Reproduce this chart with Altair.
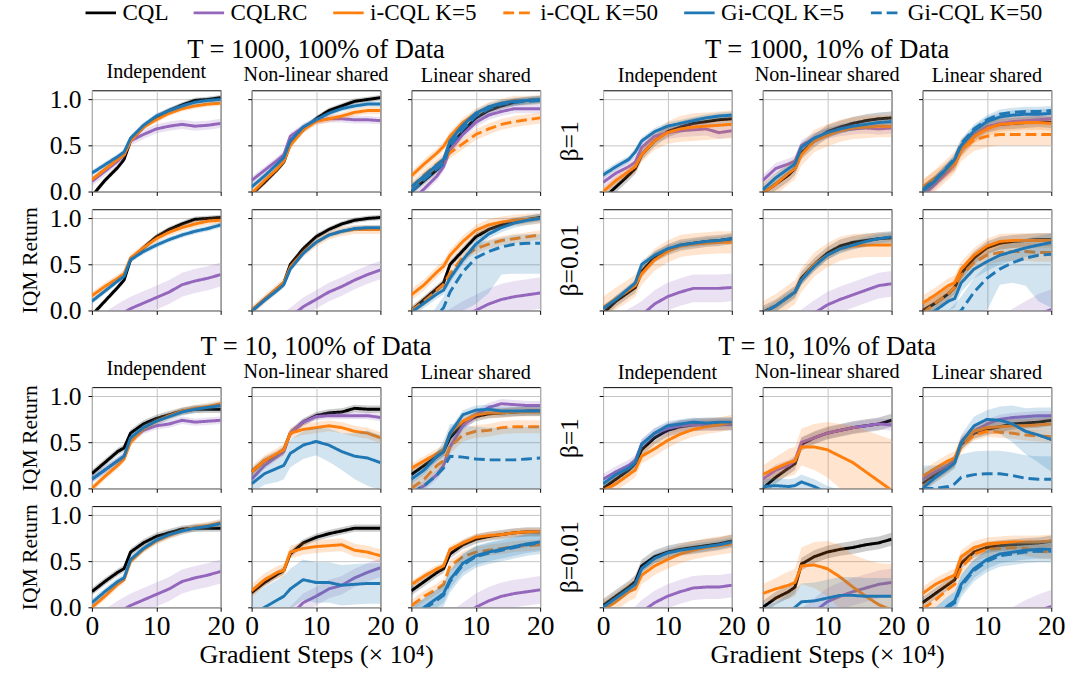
import altair as alt
import pandas as pd

# ---------------- data ----------------
X = [0, 2, 4, 5, 6, 8, 10, 12, 14, 16, 18, 20]
SERIES = ["CQL", "CQLRC", "i-CQL K=5", "i-CQL K=50", "Gi-CQL K=5", "Gi-CQL K=50"]
COLORS = ["#000000", "#9467bd", "#ff7f0e", "#ff7f0e", "#1f77b4", "#1f77b4"]
DASHES = [[1, 0], [1, 0], [1, 0], [11, 5], [1, 0], [11, 5]]
COLUMNS = ["Independent", "Non-linear shared", "Linear shared"]
GROUP_TITLES = ["T = 1000, 100% of Data", "T = 1000, 10% of Data",
                "T = 10, 100% of Data", "T = 10, 10% of Data"]
ROW_LABELS = ["β=1", "β=0.01"]
Y_TICKS = [0, 0.5, 1.0]
X_TICKS = [0, 10, 20]
X_TITLE = "Gradient Steps (× 10⁴)"
Y_TITLE = "IQM Return"

# each entry: series -> (mean values at X, band half-width)
# a half-width may be one number, a list, or a (below, above) pair
# ---- T = 1000, 100% of data ----
A_B1_IND = {
    "CQL": ([-0.05, 0.12, 0.26, 0.35, 0.55, 0.70, 0.81, 0.88, 0.94, 0.99, 1.00, 1.02], 0.03),
    "CQLRC": ([0.11, 0.22, 0.33, 0.40, 0.55, 0.62, 0.68, 0.71, 0.73, 0.71, 0.72, 0.74], 0.05),
    "i-CQL K=5": ([0.13, 0.24, 0.35, 0.40, 0.55, 0.70, 0.78, 0.85, 0.90, 0.93, 0.95, 0.96], 0.03),
    "Gi-CQL K=5": ([0.20, 0.29, 0.38, 0.43, 0.58, 0.72, 0.82, 0.88, 0.93, 0.97, 0.99, 1.00], 0.03),
}
A_B1_NON = {
    "CQL": ([-0.03, 0.10, 0.24, 0.32, 0.52, 0.67, 0.79, 0.88, 0.93, 0.98, 1.00, 1.02], 0.03),
    "CQLRC": ([0.12, 0.23, 0.34, 0.40, 0.60, 0.70, 0.77, 0.79, 0.79, 0.78, 0.78, 0.77], 0.04),
    "i-CQL K=5": ([-0.02, 0.12, 0.25, 0.33, 0.50, 0.67, 0.76, 0.79, 0.82, 0.86, 0.88, 0.88], 0.04),
    "Gi-CQL K=5": ([0.05, 0.17, 0.30, 0.37, 0.55, 0.70, 0.78, 0.85, 0.90, 0.93, 0.95, 0.95], 0.03),
}
A_B1_LIN = {
    "CQL": ([0.00, 0.12, 0.24, 0.30, 0.50, 0.65, 0.80, 0.88, 0.93, 0.97, 0.99, 1.00], 0.04),
    "CQLRC": ([-0.10, 0.03, 0.17, 0.27, 0.45, 0.62, 0.75, 0.83, 0.87, 0.90, 0.90, 0.90], 0.05),
    "i-CQL K=5": ([0.17, 0.30, 0.42, 0.49, 0.60, 0.75, 0.85, 0.92, 0.96, 0.99, 0.99, 1.00], 0.05),
    "i-CQL K=50": ([0.05, 0.18, 0.30, 0.35, 0.42, 0.52, 0.62, 0.68, 0.73, 0.76, 0.78, 0.80], 0.06),
    "Gi-CQL K=5": ([0.05, 0.17, 0.29, 0.35, 0.55, 0.72, 0.85, 0.92, 0.96, 0.98, 0.99, 1.00], 0.04),
    "Gi-CQL K=50": ([0.00, 0.13, 0.25, 0.30, 0.50, 0.68, 0.82, 0.90, 0.95, 0.97, 0.98, 0.99], 0.04),
}
A_B2_IND = {
    "CQL": ([-0.05, 0.10, 0.25, 0.33, 0.55, 0.68, 0.80, 0.88, 0.94, 0.99, 1.00, 1.01], 0.03),
    "CQLRC": ([-0.25, -0.15, -0.06, -0.02, 0.02, 0.08, 0.14, 0.20, 0.28, 0.32, 0.35, 0.39], 0.13),
    "i-CQL K=5": ([0.16, 0.26, 0.35, 0.40, 0.57, 0.68, 0.78, 0.85, 0.90, 0.94, 0.97, 0.98], 0.04),
    "Gi-CQL K=5": ([0.10, 0.21, 0.32, 0.37, 0.55, 0.64, 0.71, 0.77, 0.82, 0.86, 0.89, 0.93], 0.03),
}
A_B2_NON = {
    "CQL": ([0.00, 0.12, 0.24, 0.30, 0.50, 0.67, 0.80, 0.88, 0.94, 0.98, 1.00, 1.01], 0.03),
    "CQLRC": ([-0.35, -0.26, -0.16, -0.12, -0.07, 0.04, 0.12, 0.20, 0.26, 0.33, 0.39, 0.44], 0.10),
    "i-CQL K=5": ([0.00, 0.12, 0.24, 0.30, 0.47, 0.63, 0.74, 0.82, 0.86, 0.88, 0.88, 0.88], 0.05),
    "Gi-CQL K=5": ([-0.01, 0.11, 0.22, 0.28, 0.45, 0.62, 0.74, 0.82, 0.86, 0.89, 0.90, 0.90], 0.03),
}
A_B2_LIN = {
    "CQL": ([0.00, 0.12, 0.24, 0.30, 0.50, 0.65, 0.80, 0.88, 0.93, 0.97, 0.99, 1.01], 0.04),
    "CQLRC": ([-0.45, -0.35, -0.25, -0.20, -0.15, -0.07, 0.00, 0.07, 0.12, 0.15, 0.17, 0.19], 0.17),
    "i-CQL K=5": ([0.17, 0.28, 0.42, 0.48, 0.60, 0.75, 0.87, 0.93, 0.96, 0.98, 0.99, 1.00], 0.06),
    "i-CQL K=50": ([0.00, 0.10, 0.22, 0.28, 0.40, 0.58, 0.67, 0.72, 0.76, 0.78, 0.80, 0.82], 0.05),
    "Gi-CQL K=5": ([-0.02, 0.08, 0.18, 0.22, 0.35, 0.55, 0.72, 0.83, 0.90, 0.95, 0.98, 1.00], 0.05),
    "Gi-CQL K=50": ([-0.40, -0.25, -0.05, 0.03, 0.20, 0.42, 0.57, 0.64, 0.69, 0.72, 0.73, 0.73],
                    ([0.25, 0.25, 0.25, 0.25, 0.25, 0.42, 0.50, 0.45, 0.30, 0.32, 0.33, 0.33],
                     [0.10, 0.10, 0.10, 0.12, 0.15, 0.15, 0.15, 0.12, 0.10, 0.10, 0.10, 0.10])),
}
# ---- T = 1000, 10% of data ----
B_B1_IND = {
    "CQL": ([-0.08, 0.05, 0.18, 0.25, 0.40, 0.55, 0.65, 0.70, 0.74, 0.76, 0.78, 0.79], 0.06),
    "CQLRC": ([0.10, 0.20, 0.27, 0.32, 0.48, 0.60, 0.64, 0.66, 0.67, 0.68, 0.64, 0.66], 0.07),
    "i-CQL K=5": ([0.00, 0.12, 0.22, 0.27, 0.40, 0.55, 0.64, 0.68, 0.70, 0.71, 0.72, 0.73],
                  [0.04, 0.05, 0.06, 0.07, 0.08, 0.10, 0.12, 0.14, 0.15, 0.15, 0.15, 0.15]),
    "Gi-CQL K=5": ([0.18, 0.27, 0.35, 0.43, 0.55, 0.65, 0.71, 0.74, 0.77, 0.80, 0.82, 0.83], 0.04),
}
B_B1_NON = {
    "CQL": ([-0.02, 0.08, 0.18, 0.25, 0.42, 0.55, 0.65, 0.70, 0.74, 0.77, 0.79, 0.80], 0.07),
    "CQLRC": ([0.12, 0.25, 0.30, 0.33, 0.50, 0.58, 0.63, 0.66, 0.68, 0.69, 0.68, 0.69], 0.06),
    "i-CQL K=5": ([-0.02, 0.08, 0.20, 0.25, 0.40, 0.55, 0.61, 0.66, 0.69, 0.70, 0.71, 0.71], 0.12),
    "Gi-CQL K=5": ([0.02, 0.15, 0.25, 0.30, 0.48, 0.58, 0.64, 0.68, 0.71, 0.73, 0.75, 0.76], 0.05),
}
B_B1_LIN = {
    "CQL": ([0.00, 0.12, 0.25, 0.30, 0.45, 0.60, 0.70, 0.73, 0.74, 0.75, 0.76, 0.75], 0.06),
    "CQLRC": ([-0.05, 0.08, 0.22, 0.30, 0.45, 0.62, 0.70, 0.74, 0.76, 0.77, 0.78, 0.79], 0.05),
    "i-CQL K=5": ([0.05, 0.15, 0.25, 0.30, 0.45, 0.60, 0.68, 0.73, 0.74, 0.75, 0.75, 0.74], 0.08),
    "i-CQL K=50": ([0.00, 0.12, 0.25, 0.32, 0.45, 0.56, 0.60, 0.62, 0.62, 0.62, 0.62, 0.62], 0.12),
    "Gi-CQL K=5": ([0.00, 0.12, 0.27, 0.35, 0.50, 0.66, 0.76, 0.81, 0.83, 0.84, 0.84, 0.85], 0.05),
    "Gi-CQL K=50": ([0.02, 0.13, 0.28, 0.36, 0.52, 0.68, 0.78, 0.84, 0.86, 0.87, 0.87, 0.88], 0.05),
}
B_B2_IND = {
    "CQL": ([-0.03, 0.10, 0.20, 0.25, 0.42, 0.58, 0.66, 0.71, 0.73, 0.75, 0.76, 0.78], 0.06),
    "CQLRC": ([-0.30, -0.22, -0.13, -0.09, -0.05, 0.07, 0.15, 0.20, 0.24, 0.24, 0.24, 0.25], 0.15),
    "i-CQL K=5": ([0.03, 0.13, 0.22, 0.27, 0.40, 0.55, 0.64, 0.70, 0.72, 0.73, 0.74, 0.74], 0.12),
    "Gi-CQL K=5": ([0.02, 0.12, 0.24, 0.30, 0.50, 0.60, 0.67, 0.71, 0.73, 0.75, 0.76, 0.78], 0.04),
}
B_B2_NON = {
    "CQL": ([-0.02, 0.05, 0.15, 0.20, 0.35, 0.50, 0.62, 0.70, 0.74, 0.76, 0.78, 0.79], 0.07),
    "CQLRC": ([-0.40, -0.32, -0.22, -0.18, -0.13, -0.03, 0.06, 0.12, 0.17, 0.22, 0.27, 0.29], 0.14),
    "i-CQL K=5": ([-0.03, 0.05, 0.15, 0.20, 0.33, 0.50, 0.60, 0.67, 0.70, 0.71, 0.71, 0.71], 0.13),
    "Gi-CQL K=5": ([-0.03, 0.05, 0.15, 0.20, 0.33, 0.48, 0.60, 0.67, 0.71, 0.75, 0.78, 0.80], 0.05),
}
B_B2_LIN = {
    "CQL": ([0.00, 0.08, 0.18, 0.25, 0.40, 0.57, 0.68, 0.73, 0.75, 0.76, 0.77, 0.77], 0.07),
    "CQLRC": ([-0.60, -0.55, -0.50, -0.48, -0.45, -0.40, -0.33, -0.25, -0.18, -0.10, -0.04, 0.01],
              [0.10, 0.10, 0.10, 0.12, 0.12, 0.14, 0.16, 0.18, 0.20, 0.20, 0.22, 0.22]),
    "i-CQL K=5": ([0.08, 0.17, 0.27, 0.30, 0.45, 0.60, 0.70, 0.75, 0.76, 0.76, 0.76, 0.76], 0.08),
    "i-CQL K=50": ([-0.03, 0.08, 0.18, 0.25, 0.38, 0.52, 0.60, 0.63, 0.64, 0.64, 0.63, 0.63], 0.10),
    "Gi-CQL K=5": ([-0.08, 0.00, 0.10, 0.13, 0.30, 0.45, 0.53, 0.60, 0.64, 0.68, 0.71, 0.74], 0.10),
    "Gi-CQL K=50": ([-0.40, -0.25, -0.10, -0.05, 0.00, 0.20, 0.35, 0.45, 0.52, 0.57, 0.60, 0.61],
                    ([0.25, 0.25, 0.25, 0.25, 0.30, 0.40, 0.35, 0.17, 0.22, 0.30, 0.50, 0.58],
                     [0.10, 0.10, 0.10, 0.12, 0.15, 0.15, 0.15, 0.13, 0.12, 0.12, 0.12, 0.12])),
}
# ---- T = 10, 100% of data ----
C_B1_IND = {
    "CQL": ([0.16, 0.28, 0.40, 0.44, 0.60, 0.70, 0.76, 0.80, 0.84, 0.86, 0.86, 0.86], 0.04),
    "CQLRC": ([0.10, 0.20, 0.30, 0.35, 0.52, 0.63, 0.68, 0.70, 0.74, 0.72, 0.73, 0.74], 0.04),
    "i-CQL K=5": ([0.00, 0.13, 0.25, 0.32, 0.50, 0.65, 0.73, 0.79, 0.84, 0.87, 0.89, 0.92], 0.04),
    "Gi-CQL K=5": ([0.10, 0.20, 0.30, 0.35, 0.55, 0.66, 0.73, 0.78, 0.83, 0.86, 0.88, 0.90], 0.04),
}
C_B1_NON = {
    "CQL": ([0.18, 0.30, 0.37, 0.42, 0.60, 0.72, 0.79, 0.82, 0.83, 0.87, 0.86, 0.86], 0.04),
    "CQLRC": ([0.10, 0.25, 0.35, 0.40, 0.60, 0.72, 0.78, 0.79, 0.79, 0.79, 0.79, 0.77], 0.04),
    "i-CQL K=5": ([0.18, 0.30, 0.38, 0.42, 0.60, 0.64, 0.66, 0.68, 0.66, 0.62, 0.60, 0.55], 0.06),
    "Gi-CQL K=5": ([0.05, 0.16, 0.22, 0.25, 0.38, 0.47, 0.51, 0.47, 0.40, 0.35, 0.33, 0.28],
                   [0.10, 0.12, 0.15, 0.15, 0.15, 0.15, 0.15, 0.18, 0.20, 0.25, 0.30, 0.30]),
}
C_B1_LIN = {
    "CQL": ([0.15, 0.25, 0.35, 0.40, 0.55, 0.70, 0.78, 0.81, 0.82, 0.83, 0.84, 0.84], 0.05),
    "CQLRC": ([-0.05, 0.03, 0.15, 0.25, 0.45, 0.68, 0.80, 0.88, 0.92, 0.91, 0.90, 0.90], 0.05),
    "i-CQL K=5": ([0.22, 0.30, 0.38, 0.42, 0.60, 0.73, 0.80, 0.82, 0.82, 0.83, 0.83, 0.83], 0.05),
    "i-CQL K=50": ([0.00, 0.10, 0.25, 0.30, 0.45, 0.58, 0.62, 0.63, 0.66, 0.67, 0.67, 0.67], 0.07),
    "Gi-CQL K=5": ([0.10, 0.20, 0.35, 0.40, 0.60, 0.80, 0.85, 0.86, 0.84, 0.84, 0.84, 0.84], 0.05),
    "Gi-CQL K=50": ([-0.05, 0.03, 0.15, 0.22, 0.35, 0.34, 0.32, 0.31, 0.31, 0.31, 0.32, 0.33],
                    [0.15, 0.20, 0.25, 0.30, 0.35, 0.35, 0.35, 0.35, 0.35, 0.35, 0.35, 0.35]),
}
C_B2_IND = {
    "CQL": ([0.17, 0.28, 0.38, 0.42, 0.60, 0.70, 0.77, 0.81, 0.85, 0.86, 0.86, 0.86], 0.04),
    "CQLRC": ([-0.25, -0.15, -0.06, -0.02, 0.02, 0.08, 0.14, 0.20, 0.28, 0.32, 0.35, 0.39], 0.13),
    "i-CQL K=5": ([0.00, 0.12, 0.25, 0.30, 0.50, 0.63, 0.72, 0.78, 0.83, 0.87, 0.89, 0.92], 0.04),
    "Gi-CQL K=5": ([0.05, 0.17, 0.28, 0.32, 0.52, 0.64, 0.73, 0.79, 0.83, 0.86, 0.88, 0.91], 0.04),
}
C_B2_NON = {
    "CQL": ([0.16, 0.27, 0.36, 0.40, 0.58, 0.70, 0.76, 0.80, 0.83, 0.86, 0.86, 0.86], 0.04),
    "CQLRC": ([-0.40, -0.30, -0.20, -0.15, -0.09, 0.05, 0.12, 0.20, 0.24, 0.32, 0.38, 0.43], 0.10),
    "i-CQL K=5": ([0.18, 0.30, 0.38, 0.40, 0.60, 0.64, 0.66, 0.67, 0.68, 0.62, 0.60, 0.56], 0.07),
    "Gi-CQL K=5": ([-0.10, 0.00, 0.08, 0.12, 0.20, 0.30, 0.27, 0.27, 0.24, 0.25, 0.26, 0.26], 0.22),
}
C_B2_LIN = {
    "CQL": ([0.18, 0.28, 0.38, 0.42, 0.58, 0.68, 0.74, 0.77, 0.79, 0.81, 0.82, 0.82], 0.05),
    "CQLRC": ([-0.50, -0.40, -0.30, -0.25, -0.20, -0.10, 0.00, 0.07, 0.12, 0.15, 0.17, 0.19], 0.15),
    "i-CQL K=5": ([0.25, 0.34, 0.42, 0.45, 0.63, 0.70, 0.76, 0.78, 0.79, 0.81, 0.82, 0.82], 0.04),
    "i-CQL K=50": ([0.02, 0.12, 0.20, 0.25, 0.45, 0.55, 0.60, 0.62, 0.64, 0.66, 0.67, 0.68], 0.06),
    "Gi-CQL K=5": ([-0.10, 0.00, 0.10, 0.15, 0.30, 0.48, 0.56, 0.60, 0.63, 0.66, 0.69, 0.71], 0.10),
    "Gi-CQL K=50": ([-0.12, -0.02, 0.08, 0.13, 0.28, 0.46, 0.55, 0.59, 0.62, 0.65, 0.68, 0.70], 0.12),
}
# ---- T = 10, 10% of data ----
D_B1_IND = {
    "CQL": ([0.00, 0.10, 0.20, 0.27, 0.42, 0.55, 0.63, 0.67, 0.69, 0.70, 0.70, 0.70], 0.07),
    "CQLRC": ([0.10, 0.18, 0.25, 0.30, 0.48, 0.60, 0.65, 0.68, 0.69, 0.69, 0.69, 0.70], 0.06),
    "i-CQL K=5": ([-0.02, 0.05, 0.15, 0.20, 0.35, 0.43, 0.52, 0.59, 0.64, 0.67, 0.69, 0.72], 0.08),
    "Gi-CQL K=5": ([0.05, 0.15, 0.22, 0.28, 0.48, 0.60, 0.68, 0.70, 0.72, 0.71, 0.72, 0.72], 0.05),
}
D_B1_NON = {
    "CQL": ([0.00, 0.12, 0.22, 0.27, 0.48, 0.55, 0.60, 0.63, 0.66, 0.68, 0.70, 0.74], 0.07),
    "CQLRC": ([0.10, 0.20, 0.25, 0.30, 0.50, 0.55, 0.60, 0.63, 0.66, 0.68, 0.70, 0.69], 0.06),
    "i-CQL K=5": ([0.15, 0.22, 0.28, 0.30, 0.45, 0.45, 0.42, 0.35, 0.28, 0.18, 0.08, -0.02],
                  [0.10, 0.12, 0.15, 0.15, 0.20, 0.25, 0.30, 0.35, 0.40, 0.45, 0.50, 0.55]),
    "Gi-CQL K=5": ([0.02, 0.03, 0.02, 0.03, 0.07, 0.02, -0.05, -0.10, -0.15, -0.20, -0.25, -0.30], 0.08),
}
D_B1_LIN = {
    "CQL": ([0.05, 0.15, 0.25, 0.30, 0.48, 0.60, 0.64, 0.67, 0.70, 0.71, 0.72, 0.74], 0.06),
    "CQLRC": ([0.10, 0.18, 0.25, 0.30, 0.50, 0.62, 0.70, 0.75, 0.77, 0.78, 0.79, 0.79], 0.05),
    "i-CQL K=5": ([0.13, 0.22, 0.30, 0.33, 0.50, 0.62, 0.66, 0.67, 0.68, 0.68, 0.69, 0.70], 0.07),
    "i-CQL K=50": ([0.02, 0.12, 0.22, 0.28, 0.45, 0.58, 0.62, 0.61, 0.60, 0.58, 0.57, 0.56], 0.06),
    "Gi-CQL K=5": ([0.00, 0.12, 0.22, 0.28, 0.50, 0.68, 0.75, 0.74, 0.70, 0.62, 0.58, 0.53],
                   [0.05, 0.05, 0.05, 0.06, 0.08, 0.10, 0.10, 0.15, 0.20, 0.25, 0.30, 0.35]),
    "Gi-CQL K=50": ([0.00, 0.00, 0.02, 0.05, 0.12, 0.15, 0.16, 0.16, 0.14, 0.11, 0.10, 0.10], 0.25),
}
D_B2_IND = {
    "CQL": ([0.02, 0.12, 0.22, 0.28, 0.45, 0.55, 0.60, 0.63, 0.65, 0.67, 0.69, 0.72], 0.07),
    "CQLRC": ([-0.40, -0.30, -0.18, -0.12, -0.05, 0.05, 0.12, 0.17, 0.21, 0.22, 0.22, 0.24], 0.13),
    "i-CQL K=5": ([-0.03, 0.06, 0.17, 0.20, 0.35, 0.45, 0.52, 0.58, 0.62, 0.65, 0.67, 0.69], 0.10),
    "Gi-CQL K=5": ([0.00, 0.10, 0.20, 0.25, 0.42, 0.53, 0.59, 0.62, 0.64, 0.66, 0.68, 0.71], 0.05),
}
D_B2_NON = {
    "CQL": ([0.00, 0.10, 0.17, 0.22, 0.47, 0.55, 0.60, 0.63, 0.65, 0.68, 0.70, 0.74], 0.07),
    "CQLRC": ([-0.45, -0.38, -0.28, -0.22, -0.16, -0.05, 0.06, 0.12, 0.17, 0.21, 0.25, 0.27], 0.15),
    "i-CQL K=5": ([0.15, 0.20, 0.24, 0.27, 0.45, 0.46, 0.42, 0.33, 0.22, 0.12, 0.03, -0.03],
                  [0.10, 0.12, 0.15, 0.15, 0.20, 0.25, 0.30, 0.35, 0.35, 0.40, 0.45, 0.50]),
    "Gi-CQL K=5": ([-0.20, -0.15, -0.05, 0.00, 0.06, 0.07, 0.10, 0.13, 0.13, 0.12, 0.12, 0.12], 0.20),
}
D_B2_LIN = {
    "CQL": ([0.05, 0.15, 0.25, 0.30, 0.48, 0.60, 0.65, 0.67, 0.68, 0.69, 0.70, 0.72], 0.06),
    "CQLRC": ([-0.60, -0.55, -0.50, -0.48, -0.45, -0.40, -0.33, -0.25, -0.18, -0.10, -0.04, 0.01], 0.18),
    "i-CQL K=5": ([0.15, 0.25, 0.32, 0.35, 0.55, 0.65, 0.69, 0.70, 0.71, 0.71, 0.71, 0.72], 0.07),
    "i-CQL K=50": ([-0.02, 0.08, 0.20, 0.25, 0.43, 0.58, 0.63, 0.64, 0.65, 0.64, 0.61, 0.60], 0.08),
    "Gi-CQL K=5": ([-0.20, -0.10, 0.02, 0.07, 0.25, 0.42, 0.52, 0.58, 0.60, 0.62, 0.63, 0.63], 0.10),
    "Gi-CQL K=50": ([-0.22, -0.12, 0.00, 0.05, 0.23, 0.40, 0.50, 0.56, 0.58, 0.60, 0.61, 0.61], 0.12),
}

# grid rows of the figure (top pair of groups, then bottom pair)
TOP_ROWS = [
    [A_B1_IND, A_B1_NON, A_B1_LIN, B_B1_IND, B_B1_NON, B_B1_LIN],
    [A_B2_IND, A_B2_NON, A_B2_LIN, B_B2_IND, B_B2_NON, B_B2_LIN],
]
BOTTOM_ROWS = [
    [C_B1_IND, C_B1_NON, C_B1_LIN, D_B1_IND, D_B1_NON, D_B1_LIN],
    [C_B2_IND, C_B2_NON, C_B2_LIN, D_B2_IND, D_B2_NON, D_B2_LIN],
]

# ---------------- styling ----------------
FONT = "Liberation Serif"
W, H = 131, 103

x_scale = alt.Scale(domain=[0, 20], nice=False, zero=False)
y_scale = alt.Scale(domain=[0, 1.1], nice=False, zero=False)
stroke_scale = alt.Scale(domain=SERIES, range=COLORS)
dash_scale = alt.Scale(domain=SERIES, range=DASHES)
LEGEND = alt.Legend(
    orient="none", legendX=-8, legendY=-96, direction="horizontal", title=None,
    symbolType="stroke", symbolSize=961, symbolStrokeWidth=3,
    labelFont=FONT, labelFontSize=23.5, labelOffset=5, columnPadding=19,
    labelLimit=400, labelColor="black",
)


def as_list(v, n):
    return v if isinstance(v, list) else [v] * n


def col_title(text, group_text=None):
    if group_text is None:
        return alt.TitleParams(text, font=FONT, fontSize=20.5, fontWeight="normal",
                               offset=4, anchor="middle", color="black")
    return alt.TitleParams(group_text, subtitle=text, font=FONT, fontSize=27,
                           fontWeight="normal", color="black", anchor="middle", offset=4,
                           subtitleFont=FONT, subtitleFontSize=20.5, subtitleColor="black",
                           subtitlePadding=1)


def make_panel(pdata, title, y_title, y_labels, y_title_size, y_title_pad,
               x_labels, x_title):
    x_axis = alt.Axis(values=X_TICKS, labels=x_labels, title=x_title, grid=True,
                      labelFontSize=28, labelPadding=2, labelFlush=False,
                      labelOverlap=False, titleFontSize=26.5, titlePadding=1)
    y_axis = alt.Axis(values=Y_TICKS, labels=y_labels, title=y_title, grid=True,
                      format=".1f", labelFontSize=26, labelPadding=7,
                      labelFlush=False, labelOverlap=False,
                      titleFontSize=y_title_size, titlePadding=y_title_pad)
    layers = []
    for s, colr in zip(SERIES, COLORS):
        if s not in pdata:
            continue
        mean, spread = pdata[s]
        n = len(mean)
        if isinstance(spread, tuple):
            below, above = as_list(spread[0], n), as_list(spread[1], n)
        else:
            below = above = as_list(spread, n)
        df = pd.DataFrame({
            "x": X, "y": mean,
            "lo": [m - d for m, d in zip(mean, below)],
            "hi": [m + d for m, d in zip(mean, above)],
            "series": s,
        })
        base = alt.Chart(df)
        band = base.mark_area(opacity=0.2, clip=True).encode(
            x=alt.X("x:Q", scale=x_scale, axis=x_axis),
            y=alt.Y("lo:Q", scale=y_scale, axis=y_axis),
            y2="hi:Q",
            fill=alt.value(colr),
        )
        line = base.mark_line(strokeWidth=3, clip=True).encode(
            x=alt.X("x:Q", scale=x_scale, axis=x_axis),
            y=alt.Y("y:Q", scale=y_scale, axis=y_axis),
            stroke=alt.Stroke("series:N", scale=stroke_scale, legend=LEGEND),
            strokeDash=alt.StrokeDash("series:N", scale=dash_scale, legend=LEGEND),
        )
        layers += [band, line]
    ch = alt.layer(*layers).properties(width=W, height=H)
    if title is not None:
        ch = ch.properties(title=title)
    return ch


def spacer(w, h):
    return alt.Chart(pd.DataFrame({"v": [0]})).mark_point(opacity=0).encode(
        x=alt.value(0), y=alt.value(0)
    ).properties(width=w, height=h, view=alt.ViewBackground(stroke="transparent"))


cells = []
for block, rows in enumerate([TOP_ROWS, BOTTOM_ROWS]):
    if block == 1:
        cells += [spacer(W if c != 3 else 1, 42) for c in range(7)]
    for r, panels in enumerate(rows):
        for k, pdata in enumerate(panels):
            side = k // 3          # 0 = left group, 1 = right group
            c = k % 3
            if k == 3:
                cells.append(spacer(1, H))
            title = None
            if r == 0:
                gt = GROUP_TITLES[block * 2 + side] if c == 1 else None
                title = col_title(COLUMNS[c], gt)
            y_size, y_pad = 22, 8
            if c == 0 and side == 0:
                y_title = None if (block == 0 and r == 0) else Y_TITLE
            elif c == 0:
                y_title = ROW_LABELS[r]
                y_size, y_pad = 26, 16
            else:
                y_title = None
            x_labels = block == 1 and r == 1
            x_title = X_TITLE if (x_labels and c == 1) else None
            cells.append(make_panel(pdata, title, y_title, side == 0 and c == 0,
                                    y_size, y_pad, x_labels, x_title))

chart = alt.concat(
    *cells, columns=7, spacing={"row": 18, "column": 31.5}, bounds="flush"
).properties(
    padding={"left": 18.5, "top": -10, "right": 2, "bottom": 2}
).configure(font=FONT).configure_axis(
    labelFont=FONT, titleFont=FONT, labelColor="black", titleColor="black",
    titleFontWeight="normal", tickColor="black", tickSize=4, tickWidth=1,
    domain=False, gridColor="#c4c4c4", gridWidth=1,
).configure_view(stroke="black", strokeWidth=1).configure_title(
    font=FONT, fontWeight="normal", color="black"
)

chart.save("out.html", embed_options={"renderer": "svg", "actions": False})
